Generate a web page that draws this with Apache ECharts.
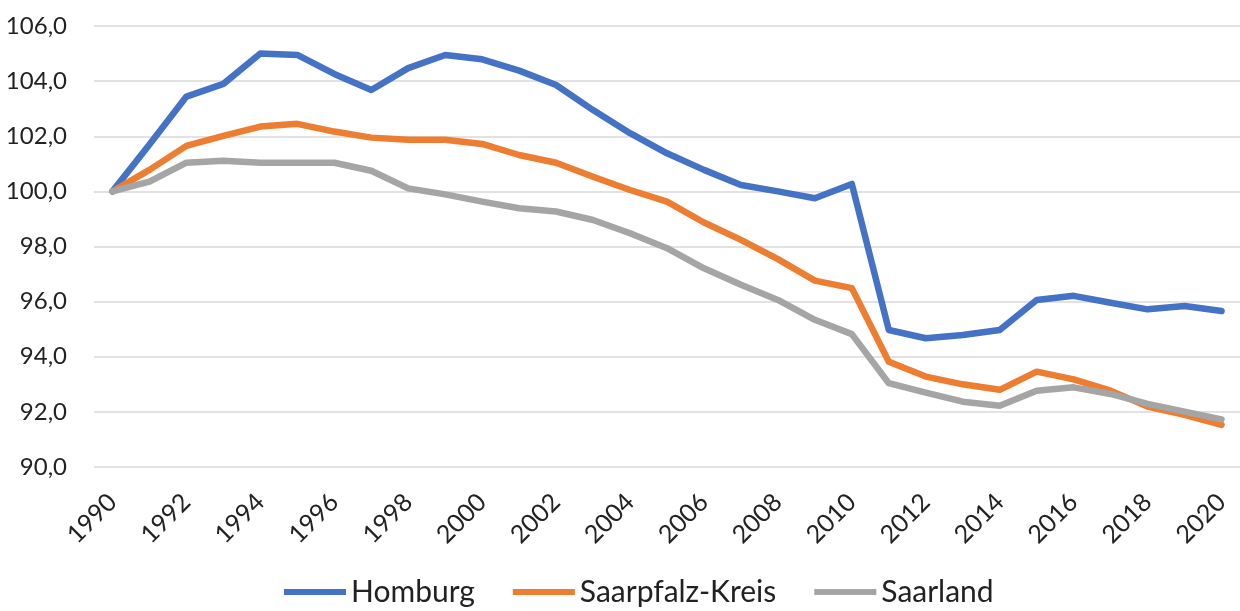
<!DOCTYPE html>
<html>
<head>
<meta charset="utf-8">
<script src="https://cdn.jsdelivr.net/npm/echarts@6/dist/echarts.min.js"></script>
<style>
html, body { margin: 0; padding: 0; background: #fff; }
#chart { width: 1240px; height: 611px; }
</style>
</head>
<body>
<div id="chart"></div>
<script>
// years on the x axis
const years = [];
for (let y = 1990; y <= 2020; y++) years.push(String(y));

// index values (1990 = 100)
const homburg = [
    100.0, 101.7, 103.44, 103.9, 105.0, 104.95, 104.26, 103.68, 104.47, 104.95,
    104.79, 104.38, 103.86, 102.95, 102.11, 101.38, 100.78, 100.23, 100.0, 99.75,
    100.27, 94.97, 94.67, 94.79, 94.97, 96.06, 96.21, 95.96, 95.72, 95.84, 95.66
];
const saarpfalz = [
    100.0, 100.78, 101.65, 102.01, 102.35, 102.45, 102.17, 101.95, 101.87, 101.87,
    101.72, 101.32, 101.04, 100.53, 100.05, 99.63, 98.87, 98.24, 97.54, 96.76,
    96.49, 93.82, 93.28, 93.0, 92.8, 93.46, 93.18, 92.77, 92.19, 91.89, 91.53
];
const saarland = [
    100.0, 100.35, 101.04, 101.11, 101.04, 101.04, 101.04, 100.75, 100.11, 99.89,
    99.63, 99.39, 99.27, 98.96, 98.48, 97.94, 97.21, 96.61, 96.06, 95.34,
    94.82, 93.04, 92.7, 92.37, 92.22, 92.77, 92.89, 92.65, 92.29, 92.01, 91.73
];

const yMin = 90, yMax = 106, yStep = 2;

const font = 'Lato, "Open Sans", sans-serif';
const chart = echarts.init(document.getElementById('chart'));

function lineSeries(name, data, color) {
    return {
        name: name,
        type: 'line',
        data: data,
        symbol: 'none',
        smooth: false,
        color: color,
        lineStyle: { width: 6.5, color: color, cap: 'round', join: 'round' },
        emphasis: { disabled: true }
    };
}

chart.setOption({
    animation: false,
    textStyle: { fontFamily: font },
    grid: { left: 94, top: 26, width: 1150, height: 441, containLabel: false },
    legend: {
        top: 572,
        left: 279,
        icon: 'rect',
        itemWidth: 62,
        itemHeight: 6,
        itemGap: 38,
        textStyle: { fontSize: 30, color: '#222', fontFamily: font },
        data: ['Homburg', 'Saarpfalz-Kreis', 'Saarland']
    },
    xAxis: {
        type: 'category',
        data: years,
        boundaryGap: true,
        axisLine: { show: false },
        axisTick: { show: false },
        axisLabel: {
            interval: 1,
            rotate: 45,
            margin: 31,
            fontSize: 25,
            color: '#222',
            fontFamily: font
        },
        splitLine: { show: false }
    },
    yAxis: {
        type: 'value',
        min: yMin,
        max: yMax,
        interval: yStep,
        axisLine: { show: false },
        axisTick: { show: false },
        axisLabel: {
            margin: 27,
            fontSize: 24,
            color: '#222',
            fontFamily: font,
            formatter: v => v.toFixed(1).replace('.', ',')
        },
        splitLine: { lineStyle: { color: '#d9d9d9', width: 1.5 } }
    },
    series: [
        lineSeries('Homburg', homburg, '#4472C4'),
        lineSeries('Saarpfalz-Kreis', saarpfalz, '#ED7D31'),
        lineSeries('Saarland', saarland, '#A5A5A5')
    ]
});
</script>
</body>
</html>
